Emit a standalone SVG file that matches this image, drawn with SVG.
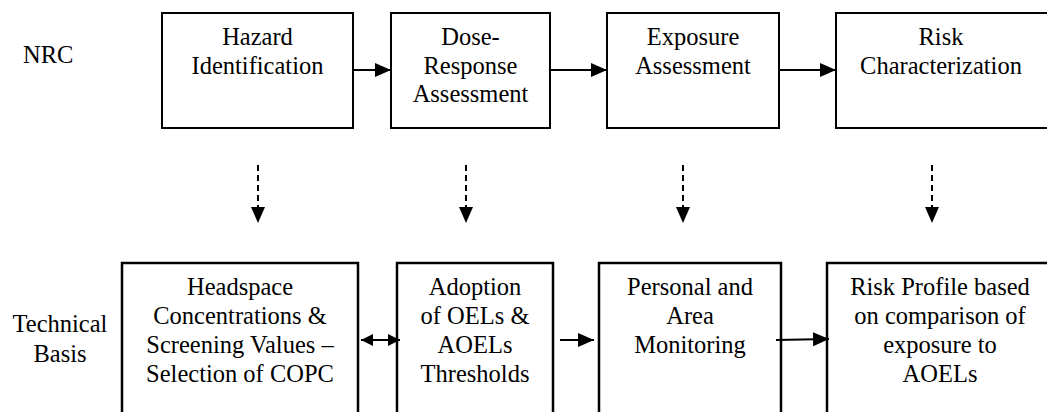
<svg xmlns="http://www.w3.org/2000/svg" width="1047" height="412" viewBox="0 0 1047 412">
<style>
text{font-family:'Liberation Serif','Times New Roman',Tinos,'DejaVu Serif',serif;font-size:24.5px;fill:#000}
.c{text-anchor:middle}
.box{fill:#fff;stroke:#000;stroke-width:2}
.bbox{fill:#fff;stroke:#000;stroke-width:2.5}
.con{stroke:#000;stroke-width:2;fill:none}
.dash{stroke-dasharray:6 4}
</style>
<defs>
<marker id="ah" markerUnits="userSpaceOnUse" markerWidth="16" markerHeight="14" refX="16" refY="7" orient="auto-start-reverse" viewBox="0 0 16 14">
<path d="M0,0 L16,7 L0,14 Z" fill="#000"/>
</marker>
<marker id="ahs" markerUnits="userSpaceOnUse" markerWidth="12" markerHeight="12" refX="12" refY="6" orient="auto-start-reverse" viewBox="0 0 12 12">
<path d="M0,0 L12,6 L0,12 Z" fill="#000"/>
</marker>
</defs>
<rect width="1047" height="412" fill="#fff"/>
<g id="labels" font-family="Liberation Serif, serif">
<text x="23" y="63">NRC</text>
<text class="c" x="60" y="332">Technical</text>
<text class="c" x="60" y="362">Basis</text>
</g>
<g id="hazard" font-family="Liberation Serif, serif">
<rect class="box" x="162" y="13" width="191" height="115"/>
<text class="c" x="257.5" y="45">Hazard</text>
<text class="c" x="257.5" y="74">Identification</text>
</g>
<g id="dose" font-family="Liberation Serif, serif">
<rect class="box" x="391" y="13" width="159" height="115"/>
<text class="c" x="470.5" y="45">Dose-</text>
<text class="c" x="470.5" y="74">Response</text>
<text class="c" x="470.5" y="102">Assessment</text>
</g>
<g id="exposure" font-family="Liberation Serif, serif">
<rect class="box" x="607" y="13" width="172" height="115"/>
<text class="c" x="693" y="45">Exposure</text>
<text class="c" x="693" y="74">Assessment</text>
</g>
<g id="risk" font-family="Liberation Serif, serif">
<rect class="box" x="836" y="13" width="215" height="115"/>
<text class="c" x="941" y="45">Risk</text>
<text class="c" x="941" y="74">Characterization</text>
</g>
<g id="headspace" font-family="Liberation Serif, serif">
<rect class="bbox" x="122" y="263" width="236" height="160"/>
<text class="c" x="240" y="295">Headspace</text>
<text class="c" x="240" y="324">Concentrations &amp;</text>
<text class="c" x="240" y="353">Screening Values –</text>
<text class="c" x="240" y="382">Selection of COPC</text>
</g>
<g id="adoption" font-family="Liberation Serif, serif">
<rect class="bbox" x="397" y="263" width="156" height="160"/>
<text class="c" x="475" y="295">Adoption</text>
<text class="c" x="475" y="324">of OELs &amp;</text>
<text class="c" x="475" y="353">AOELs</text>
<text class="c" x="475" y="382">Thresholds</text>
</g>
<g id="monitoring" font-family="Liberation Serif, serif">
<rect class="bbox" x="599" y="263" width="182" height="160"/>
<text class="c" x="690" y="295">Personal and</text>
<text class="c" x="690" y="324">Area</text>
<text class="c" x="690" y="353">Monitoring</text>
</g>
<g id="profile" font-family="Liberation Serif, serif">
<rect class="bbox" x="827" y="263" width="230" height="160"/>
<text class="c" x="940" y="295">Risk Profile based</text>
<text class="c" x="940" y="324">on comparison of</text>
<text class="c" x="940" y="353">exposure to</text>
<text class="c" x="940" y="382">AOELs</text>
</g>
<g id="connectors">
<line class="con" x1="353" y1="70" x2="391" y2="70" marker-end="url(#ah)"/>
<line class="con" x1="550" y1="70" x2="607" y2="70" marker-end="url(#ah)"/>
<line class="con" x1="779" y1="70" x2="836" y2="70" marker-end="url(#ah)"/>
<line class="con dash" x1="258" y1="165" x2="258" y2="223" marker-end="url(#ah)"/>
<line class="con dash" x1="466" y1="165" x2="466" y2="223" marker-end="url(#ah)"/>
<line class="con dash" x1="683" y1="165" x2="683" y2="223" marker-end="url(#ah)"/>
<line class="con dash" x1="932" y1="165" x2="932" y2="223" marker-end="url(#ah)"/>
<line class="con" x1="361" y1="340" x2="400" y2="340" marker-start="url(#ahs)" marker-end="url(#ahs)"/>
<line class="con" x1="560" y1="340" x2="594" y2="340" marker-end="url(#ah)"/>
<line class="con" x1="776" y1="340" x2="829" y2="339" marker-end="url(#ah)"/>
</g>
</svg>
